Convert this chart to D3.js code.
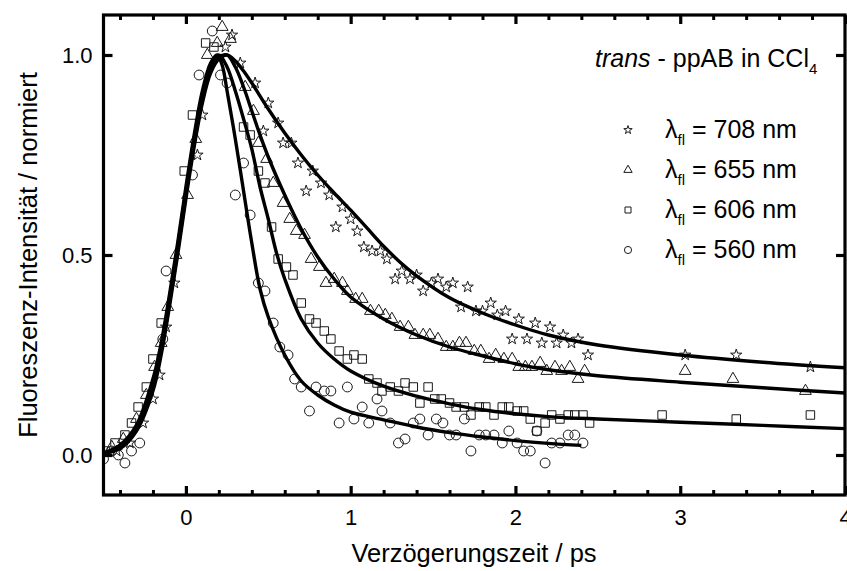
<!DOCTYPE html>
<html><head><meta charset="utf-8">
<script src="https://cdn.jsdelivr.net/npm/d3@7"></script>
<style>
html,body{margin:0;padding:0;background:#fff;}
svg{display:block;font-family:"Liberation Sans",Arial,sans-serif;}
</style></head>
<body>
<svg id="c" width="847" height="571"></svg>
<script>
// ---- data (t in ps, normalized intensity) ----
const xMajorTicks = [0, 1, 2, 3, 4];
const xMinorTicks = [-0.4,-0.2,0.2,0.4,0.6,0.8,1.2,1.4,1.6,1.8,2.2,2.4,2.6,2.8,3.2,3.4,3.6,3.8];
const yMajorTicks = [0.0, 0.5, 1.0];

const data560 = [[-0.50,-0.01],[-0.45,0.01],[-0.41,0.00],[-0.37,-0.02],[-0.33,0.01],[-0.28,0.03],[-0.14,0.29],[-0.12,0.46],[0.04,0.70],[0.08,0.95],[0.16,1.06],[0.21,0.95],[0.25,0.93],[0.35,0.73],[0.30,0.65],[0.39,0.60],[0.44,0.43],[0.48,0.41],[0.53,0.33],[0.57,0.27],[0.62,0.25],[0.66,0.19],[0.70,0.17],[0.75,0.11],[0.79,0.17],[0.84,0.16],[0.88,0.16],[0.93,0.08],[0.98,0.17],[1.02,0.09],[1.07,0.12],[1.11,0.08],[1.16,0.14],[1.19,0.11],[1.24,0.08],[1.29,0.03],[1.33,0.04],[1.38,0.08],[1.42,0.09],[1.47,0.05],[1.52,0.09],[1.56,0.08],[1.60,0.05],[1.64,0.05],[1.69,0.09],[1.73,0.01],[1.78,0.05],[1.82,0.05],[1.87,0.05],[1.92,0.03],[1.96,0.06],[2.01,0.03],[2.05,0.01],[2.09,0.01],[2.13,0.06],[2.18,-0.02],[2.22,0.03],[2.27,0.03],[2.32,0.05],[2.36,0.05],[2.41,0.03]];

const data606 = [[-0.49,0.01],[-0.43,0.03],[-0.37,0.05],[-0.33,0.08],[-0.29,0.12],[-0.24,0.17],[-0.20,0.24],[-0.15,0.33],[-0.01,0.71],[0.04,0.85],[0.12,1.03],[0.17,1.02],[0.35,0.82],[0.39,0.80],[0.44,0.71],[0.48,0.68],[0.52,0.57],[0.56,0.49],[0.61,0.47],[0.65,0.45],[0.70,0.38],[0.75,0.34],[0.79,0.33],[0.84,0.31],[0.88,0.29],[0.93,0.26],[0.98,0.24],[1.02,0.25],[1.07,0.24],[1.11,0.19],[1.16,0.18],[1.19,0.16],[1.24,0.17],[1.29,0.16],[1.33,0.18],[1.38,0.17],[1.42,0.13],[1.47,0.17],[1.51,0.14],[1.55,0.14],[1.60,0.13],[1.64,0.12],[1.69,0.12],[1.73,0.10],[1.78,0.12],[1.82,0.12],[1.87,0.10],[1.92,0.12],[1.96,0.12],[2.01,0.11],[2.05,0.11],[2.09,0.09],[2.13,0.06],[2.18,0.08],[2.22,0.10],[2.27,0.09],[2.32,0.10],[2.36,0.10],[2.41,0.10],[2.45,0.08],[2.89,0.10],[3.34,0.09],[3.79,0.10]];

const data655 = [[-0.45,0.02],[-0.38,0.04],[-0.30,0.09],[-0.24,0.15],[-0.19,0.22],[-0.15,0.28],[-0.11,0.37],[-0.06,0.50],[0.01,0.65],[0.06,0.79],[0.13,1.00],[0.19,1.03],[0.22,1.07],[0.27,1.04],[0.36,0.92],[0.41,0.86],[0.44,0.78],[0.49,0.74],[0.53,0.68],[0.59,0.63],[0.63,0.59],[0.67,0.56],[0.72,0.55],[0.76,0.49],[0.81,0.47],[0.85,0.43],[0.90,0.44],[0.95,0.43],[0.98,0.41],[1.03,0.39],[1.07,0.39],[1.12,0.36],[1.17,0.36],[1.21,0.35],[1.25,0.34],[1.30,0.32],[1.35,0.32],[1.39,0.30],[1.44,0.30],[1.48,0.30],[1.53,0.29],[1.58,0.27],[1.62,0.27],[1.66,0.28],[1.70,0.28],[1.75,0.26],[1.79,0.26],[1.84,0.24],[1.88,0.25],[1.93,0.24],[1.98,0.24],[2.02,0.22],[2.06,0.22],[2.10,0.22],[2.15,0.23],[2.19,0.21],[2.24,0.22],[2.28,0.21],[2.33,0.22],[2.38,0.19],[2.42,0.21],[3.03,0.21],[3.32,0.19],[3.76,0.16]];

const data708 = [[-0.42,0.01],[-0.34,0.03],[-0.26,0.08],[-0.20,0.14],[-0.16,0.20],[-0.12,0.32],[-0.07,0.43],[0.07,0.75],[0.10,0.85],[0.24,1.02],[0.28,1.05],[0.33,0.98],[0.42,0.93],[0.47,0.81],[0.50,0.88],[0.56,0.83],[0.59,0.78],[0.64,0.78],[0.68,0.73],[0.73,0.66],[0.77,0.71],[0.82,0.68],[0.87,0.65],[0.91,0.57],[0.95,0.62],[1.00,0.59],[1.04,0.56],[1.08,0.52],[1.13,0.51],[1.18,0.51],[1.22,0.49],[1.27,0.44],[1.31,0.46],[1.36,0.44],[1.40,0.45],[1.44,0.41],[1.49,0.43],[1.53,0.44],[1.58,0.42],[1.62,0.43],[1.67,0.37],[1.71,0.42],[1.76,0.36],[1.80,0.36],[1.85,0.38],[1.89,0.35],[1.94,0.36],[1.98,0.29],[2.02,0.34],[2.07,0.29],[2.12,0.33],[2.16,0.28],[2.21,0.32],[2.25,0.28],[2.29,0.30],[2.34,0.28],[2.38,0.29],[2.44,0.25],[3.03,0.25],[3.34,0.25],[3.79,0.22]];

const fit560 = [[-0.5,0.005],[-0.4,0.025],[-0.3,0.075],[-0.2,0.19],[-0.15,0.28],[-0.1,0.40],[-0.05,0.53],[0,0.67],[0.05,0.80],[0.1,0.91],[0.15,0.98],[0.19,1.0],[0.22,0.975],[0.25,0.91],[0.3,0.79],[0.35,0.66],[0.4,0.53],[0.45,0.415],[0.5,0.345],[0.6,0.25],[0.7,0.185],[0.8,0.15],[0.9,0.125],[1.0,0.107],[1.2,0.088],[1.4,0.07],[1.6,0.056],[1.8,0.045],[2.0,0.036],[2.2,0.029],[2.4,0.024]];
const fit606 = [[-0.5,0.005],[-0.4,0.02],[-0.3,0.07],[-0.2,0.18],[-0.15,0.27],[-0.1,0.39],[-0.05,0.52],[0,0.66],[0.05,0.79],[0.1,0.90],[0.15,0.975],[0.2,1.0],[0.25,0.97],[0.3,0.91],[0.35,0.84],[0.4,0.765],[0.45,0.67],[0.5,0.59],[0.55,0.505],[0.6,0.44],[0.7,0.34],[0.8,0.28],[0.9,0.24],[1.0,0.21],[1.2,0.172],[1.4,0.147],[1.6,0.128],[1.8,0.113],[2.0,0.103],[2.2,0.096],[2.5,0.09],[3.0,0.082],[3.5,0.074],[4.0,0.066]];
const fit655 = [[-0.5,0.004],[-0.4,0.018],[-0.3,0.065],[-0.2,0.17],[-0.15,0.26],[-0.1,0.38],[-0.05,0.51],[0,0.65],[0.05,0.78],[0.1,0.89],[0.15,0.965],[0.2,0.995],[0.25,1.0],[0.3,0.97],[0.35,0.92],[0.4,0.86],[0.45,0.80],[0.5,0.745],[0.6,0.65],[0.7,0.565],[0.8,0.495],[0.9,0.44],[1.0,0.395],[1.2,0.34],[1.4,0.30],[1.6,0.27],[1.8,0.248],[2.0,0.228],[2.2,0.213],[2.5,0.198],[3.0,0.182],[3.5,0.168],[4.0,0.155]];
const fit708 = [[-0.5,0.004],[-0.4,0.016],[-0.3,0.06],[-0.2,0.16],[-0.15,0.25],[-0.1,0.37],[-0.05,0.50],[0,0.64],[0.05,0.77],[0.1,0.88],[0.15,0.955],[0.2,0.99],[0.25,1.0],[0.3,0.985],[0.35,0.96],[0.4,0.93],[0.5,0.865],[0.6,0.805],[0.7,0.75],[0.8,0.70],[0.9,0.655],[1.0,0.612],[1.1,0.567],[1.2,0.522],[1.3,0.482],[1.4,0.448],[1.6,0.393],[1.8,0.355],[2.0,0.325],[2.2,0.30],[2.5,0.275],[3.0,0.25],[3.5,0.232],[4.0,0.218]];

const legendLabels = ["708 nm", "655 nm", "606 nm", "560 nm"];

// ---- drawing ----
const svg = d3.select("#c");
const x = d3.scaleLinear().domain([-0.5, 4]).range([103.5, 845]);
const y = d3.scaleLinear().domain([-0.1, 1.1]).range([495, 15]);

const series = [
  {data: data708, fit: fit708, sym: d3.symbolStar, size: 40, lsize: 22},
  {data: data655, fit: fit655, sym: d3.symbolTriangle, size: 60, lsize: 30},
  {data: data606, fit: fit606, sym: d3.symbolSquare, size: 72, lsize: 36},
  {data: data560, fit: fit560, sym: d3.symbolCircle, size: 76, lsize: 40}
];

svg.append("clipPath").attr("id","clip").append("rect")
  .attr("x",103.5).attr("y",15).attr("width",741.5).attr("height",480);
const plot = svg.append("g").attr("clip-path","url(#clip)");

series.forEach(s => {
  plot.append("g").selectAll("path").data(s.data).join("path")
    .attr("transform", d => `translate(${x(d[0])},${y(d[1])})`)
    .attr("d", d3.symbol().type(s.sym).size(s.size))
    .attr("fill","none").attr("stroke","#1a1a1a").attr("stroke-width",1);
});
const line = d3.line().x(d=>x(d[0])).y(d=>y(d[1])).curve(d3.curveCatmullRom.alpha(0.5));
series.forEach(s => {
  plot.append("path").datum(s.fit).attr("d", line)
    .attr("fill","none").attr("stroke","#000").attr("stroke-width",3.4);
});

// axes
function styleAxis(g, w){
  g.select(".domain").remove();
  g.selectAll(".tick line").attr("stroke","#000").attr("stroke-width",w);
  g.selectAll("text").attr("font-size",22).attr("fill","#000").attr("font-family","Liberation Sans, Arial, sans-serif");
}
const gxb = svg.append("g").attr("transform","translate(0,495)")
  .call(d3.axisBottom(x).tickValues(xMajorTicks).tickSize(-9).tickPadding(14).tickFormat(d3.format("d")));
styleAxis(gxb,3.2);
const gxbm = svg.append("g").attr("transform","translate(0,495)")
  .call(d3.axisBottom(x).tickValues(xMinorTicks).tickSize(-5).tickFormat(""));
styleAxis(gxbm,3);
const gxt = svg.append("g").attr("transform","translate(0,15)")
  .call(d3.axisTop(x).tickValues(xMajorTicks).tickSize(-9).tickFormat(""));
styleAxis(gxt,3.2);
const gxtm = svg.append("g").attr("transform","translate(0,15)")
  .call(d3.axisTop(x).tickValues(xMinorTicks).tickSize(-5).tickFormat(""));
styleAxis(gxtm,3);
const gyl = svg.append("g").attr("transform","translate(103.5,0)")
  .call(d3.axisLeft(y).tickValues(yMajorTicks).tickSize(-9).tickPadding(11).tickFormat(d3.format(".1f")));
styleAxis(gyl,3.2);
const gyr = svg.append("g").attr("transform","translate(845,0)")
  .call(d3.axisRight(y).tickValues(yMajorTicks).tickSize(-9).tickFormat(""));
styleAxis(gyr,3.2);

svg.append("rect").attr("x",103.5).attr("y",15).attr("width",741.5).attr("height",480)
  .attr("fill","none").attr("stroke","#000").attr("stroke-width",3.2);

// axis titles
svg.append("text").attr("x",474).attr("y",562).attr("text-anchor","middle")
  .attr("font-size",25.5).text("Verzögerungszeit / ps");
svg.append("text").attr("transform","translate(37,255) rotate(-90)").attr("text-anchor","middle")
  .attr("font-size",25.5).text("Fluoreszenz-Intensität / normiert");

// title
const t = svg.append("text").attr("x",595).attr("y",67).attr("font-size",25);
t.append("tspan").attr("font-style","italic").text("trans");
t.append("tspan").text(" - ppAB in CCl");
t.append("tspan").attr("font-size",15).attr("dy",7).text("4");

// legend
series.forEach((s,i) => {
  const yy = 130 + i*40;
  svg.append("path").attr("transform",`translate(628,${yy})`)
    .attr("d", d3.symbol().type(s.sym).size(s.lsize))
    .attr("fill","none").attr("stroke","#1a1a1a").attr("stroke-width",1);
  const lt = svg.append("text").attr("x",665).attr("y",yy+8).attr("font-size",25);
  lt.append("tspan").text("λ");
  lt.append("tspan").attr("font-size",15).attr("dy",7).text("fl");
  lt.append("tspan").attr("dy",-7).text(" = " + legendLabels[i]);
});
</script>
</body></html>
